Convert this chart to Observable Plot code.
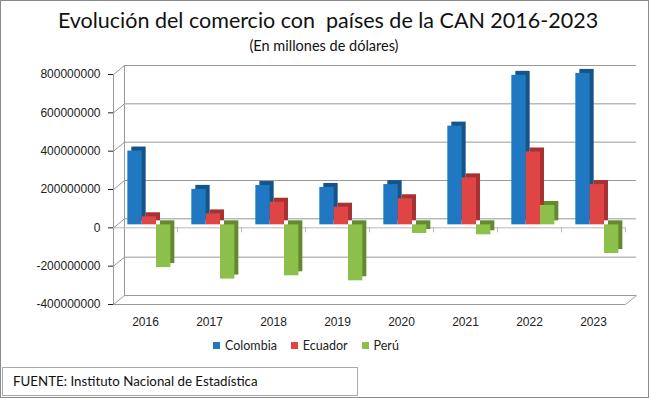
<!DOCTYPE html>
<html>
<head>
<meta charset="utf-8">
<script src="https://cdn.jsdelivr.net/npm/d3@7"></script>
<script src="https://cdn.jsdelivr.net/npm/@observablehq/plot@0.6"></script>
<style>
  html, body { margin: 0; padding: 0; background: #fff; }
  #wrap { position: relative; width: 649px; height: 398px; overflow: hidden; background: #fff; font-family: Lato, "Open Sans", sans-serif; }
  #frame { position: absolute; left: 0; top: 0; width: 649px; height: 398px; box-sizing: border-box; border: 1px solid #8a8a8a; pointer-events: none; }
  #title { position: absolute; left: 0; top: 7px; width: 656px; text-align: center; font-size: 21.5px; color: #111; white-space: nowrap; }
  #subtitle { position: absolute; left: 0; top: 37px; width: 648px; text-align: center; font-size: 14.5px; color: #111; }
  #chart { position: absolute; left: 0; top: 56px; }
  #legend { position: absolute; left: 213px; top: 338px; display: flex; align-items: center; font-size: 12.5px; color: #222; }
  #legend .item { display: flex; align-items: center; margin-right: 14px; }
  #legend .sw { width: 7px; height: 7px; margin-right: 5px; }
  #source { position: absolute; left: 2px; top: 367px; width: 356px; height: 29px; box-sizing: border-box; border: 1px solid #a8a8a8; padding-left: 10px; line-height: 27px; font-size: 13.3px; color: #111; }
</style>
</head>
<body>
<div id="wrap">
  <div id="title">Evolución del comercio con&nbsp; países de la CAN 2016-2023</div>
  <div id="subtitle">(En millones de dólares)</div>
  <div id="chart"></div>
  <div id="legend"></div>
  <div id="source">FUENTE: Instituto Nacional de Estadística</div>
  <div id="frame"></div>
</div>
<script>
// ---- data ----
const years = ["2016", "2017", "2018", "2019", "2020", "2021", "2022", "2023"];
const seriesNames = ["Colombia", "Ecuador", "Perú"];
const colombia = [385e6, 185e6, 205e6, 195e6, 210e6, 515e6, 780e6, 790e6];
const ecuador  = [42e6, 57e6, 118e6, 92e6, 136e6, 245e6, 380e6, 210e6];
const peru     = [-223e6, -283e6, -266e6, -292e6, -45e6, -52e6, 101e6, -150e6];
const yTicks = [-400000000, -200000000, 0, 200000000, 400000000, 600000000, 800000000];

// ---- styling / geometry ----
const frontColors = ["#1f78c1", "#e04545", "#8cc04a"];
const sideColors  = ["#15548a", "#a83232", "#628a30"];
const W = 649, H = 280, ML = 113, MR = 24, MT = 18, MB = 32;
const DEPTH_X = 11, DEPTH_Y = 9;      // 3D wall depth in px
const BAR_DEPTH = 4;                  // 3D bar depth in px
const BAR_LIFT = 3;                   // bars sit slightly behind the front plane
const GROUP_START = 0.224, BAR_W = 0.224;
const yDomain = [-400000000, 800000000];
const plotW = W - ML - MR, plotH = H - MT - MB;
const unitX = years.length / plotW;                       // data units per px (x)
const unitY = (yDomain[1] - yDomain[0]) / plotH;          // data units per px (y)

const allValues = [colombia, ecuador, peru];
const rows = [];
allValues.forEach((vals, k) => vals.forEach((v, i) => rows.push({i, k, s: seriesNames[k], v})));

const gridColor = "#999999";
const marks = [
  // back wall gridlines
  Plot.ruleY(yTicks, {dx: DEPTH_X, dy: -DEPTH_Y, stroke: gridColor}),
  // back-left vertical edge
  Plot.ruleX([0], {dx: DEPTH_X, dy: -DEPTH_Y, stroke: gridColor}),
  // side wall slant lines
  Plot.link(yTicks, {x1: 0, y1: d => d, x2: DEPTH_X * unitX, y2: d => d + DEPTH_Y * unitY, stroke: gridColor}),
  // front-left vertical edge
  Plot.ruleX([0], {stroke: gridColor}),
  // floor front edge and right slant
  Plot.ruleY([yDomain[0]], {stroke: gridColor}),
  Plot.link([yDomain[0]], {x1: years.length, y1: d => d, x2: years.length + DEPTH_X * unitX, y2: d => d + DEPTH_Y * unitY, stroke: gridColor}),
  // category axis at zero with boundary ticks
  Plot.ruleY([0], {stroke: "#b8b8b8"}),
  Plot.ruleX(d3.range(1, years.length + 1), {y1: 0, y2: -5 * unitY, stroke: "#b8b8b8"})
];
// bars: side/top (offset darker) then front face, series in order
for (let k = 0; k < 3; k++) {
  const data = rows.filter(r => r.k === k);
  marks.push(Plot.rectY(data, {
    x1: r => r.i + GROUP_START + k * BAR_W, x2: r => r.i + GROUP_START + (k + 1) * BAR_W,
    y1: 0, y2: "v", fill: sideColors[k], dx: BAR_DEPTH, dy: -BAR_LIFT - BAR_DEPTH
  }));
  marks.push(Plot.rectY(data, {
    x1: r => r.i + GROUP_START + k * BAR_W, x2: r => r.i + GROUP_START + (k + 1) * BAR_W,
    y1: 0, y2: "v", fill: frontColors[k], dy: -BAR_LIFT
  }));
}

const chart = Plot.plot({
  width: W, height: H,
  marginLeft: ML, marginRight: MR, marginTop: MT, marginBottom: MB,
  style: {fontFamily: "'Liberation Sans', Arial, sans-serif", fontSize: "12px", color: "#222", background: "transparent", overflow: "visible"},
  x: {domain: [0, years.length], ticks: years.map((y, i) => i + 0.5), tickFormat: t => years[Math.floor(t)], tickSize: 0, tickPadding: 13, label: null},
  y: {domain: yDomain, ticks: yTicks, tickFormat: d => String(d), tickSize: 5, tickPadding: 8, label: null},
  marks
});
document.getElementById("chart").appendChild(chart);

// legend
const legend = document.getElementById("legend");
seriesNames.forEach((name, k) => {
  const item = document.createElement("div");
  item.className = "item";
  const sw = document.createElement("div");
  sw.className = "sw";
  sw.style.background = frontColors[k];
  const tx = document.createElement("span");
  tx.textContent = name;
  item.appendChild(sw); item.appendChild(tx);
  legend.appendChild(item);
});
</script>
</body>
</html>
